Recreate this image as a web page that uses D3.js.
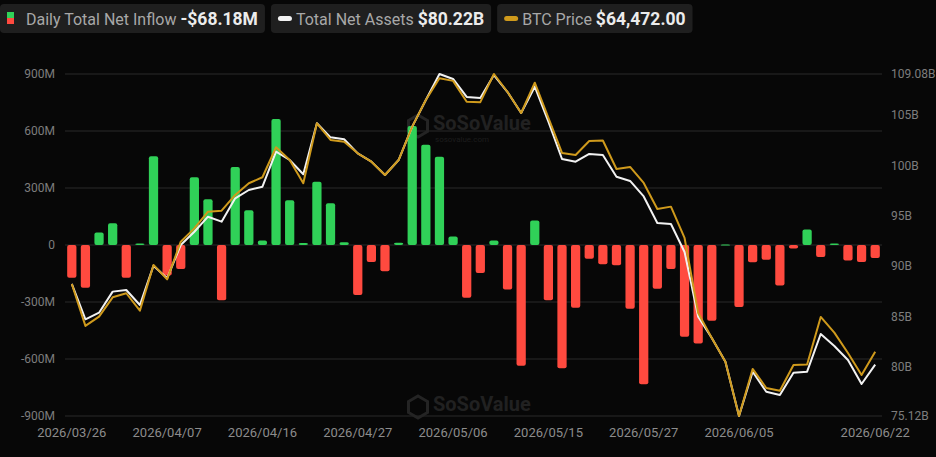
<!DOCTYPE html>
<html>
<head>
<meta charset="utf-8">
<script src="https://cdn.jsdelivr.net/npm/d3@7"></script>
<style>
    html, body { margin: 0; padding: 0; background: #070707; }
    svg { display: block; font-family: Roboto, 'Noto Sans', sans-serif; }
</style>
</head>
<body>
<svg id="chart" width="936" height="457"></svg>
<script>
// trading days shown on the chart
var dates = [
    '2026/03/26', '2026/03/27', '2026/03/30', '2026/03/31', '2026/04/01', '2026/04/02', '2026/04/06', '2026/04/07',
    '2026/04/08', '2026/04/09', '2026/04/10', '2026/04/13', '2026/04/14', '2026/04/15', '2026/04/16', '2026/04/17',
    '2026/04/20', '2026/04/21', '2026/04/22', '2026/04/23', '2026/04/24', '2026/04/27', '2026/04/28', '2026/04/29',
    '2026/04/30', '2026/05/01', '2026/05/04', '2026/05/05', '2026/05/06', '2026/05/07', '2026/05/08', '2026/05/11',
    '2026/05/12', '2026/05/13', '2026/05/14', '2026/05/15', '2026/05/18', '2026/05/19', '2026/05/20', '2026/05/21',
    '2026/05/22', '2026/05/26', '2026/05/27', '2026/05/28', '2026/05/29', '2026/06/01', '2026/06/02', '2026/06/03',
    '2026/06/04', '2026/06/05', '2026/06/08', '2026/06/09', '2026/06/10', '2026/06/11', '2026/06/12', '2026/06/15',
    '2026/06/16', '2026/06/17', '2026/06/18', '2026/06/22'
];

// daily total net inflow, million USD
var netInflow = [
    -173, -225, 66, 115, -173, 8, 467, -160, -126, 356, 241, -291, 410, 183, 24,
    663, 235, 10, 333, 220, 14, -263, -89, -138, 12, 626, 528, 464, 45, -277,
    -147, 24, -234, -635, 129, -291, -649, -330, -73, -101, -106, -335, -733, -230, -126,
    -483, -518, -399, 2, -326, -91, -77, -213, -19, 82, -63, 8, -82, -89, -68.18
];

// total net assets, billion USD
var netAssets = [
    88.23, 84.72, 85.38, 87.47, 87.63, 86.14, 90.05, 88.79, 92.10, 93.42, 94.91, 94.42, 96.74, 97.56, 97.89,
    101.37, 100.54, 99.12, 104.19, 102.79, 102.60, 101.20, 100.38, 99.05, 100.54, 103.85, 106.50, 109.08, 108.59, 106.80,
    106.70, 108.98, 107.29, 105.21, 107.82, 104.35, 100.64, 100.37, 101.14, 101.04, 98.88, 98.46, 96.92, 94.29, 94.19,
    91.41, 84.98, 82.87, 80.51, 75.12, 79.52, 77.53, 77.21, 79.42, 79.52, 83.26, 82.07, 80.68, 78.30, 80.22
];

// BTC price, USD
var btcPrice = [
    68990, 66190, 66810, 68100, 68370, 67210, 70260, 69300, 71810, 72700, 73810, 73880, 74930, 75710, 76110,
    78110, 77260, 75710, 79710, 78600, 78480, 77710, 77150, 76260, 77260, 79490, 81270, 82720, 82540, 81150,
    81120, 83000, 81800, 80400, 82420, 80070, 77730, 77600, 78530, 78560, 76660, 76800, 75730, 73990, 74150,
    72060, 67050, 65390, 63800, 60180, 63320, 62050, 61870, 63580, 63610, 66790, 65740, 64380, 62920, 64472
];

var inflowTicks = [-900, -600, -300, 0, 300, 600, 900];
var assetTicks = [80, 85, 90, 95, 100, 105];
var dateTicks = ['2026/03/26', '2026/04/07', '2026/04/16', '2026/04/27', '2026/05/06',
    '2026/05/15', '2026/05/27', '2026/06/05', '2026/06/22'];

var green = '#30d158';
var red = '#ff4a3f';
var gold = '#cf9a1c';
var white = '#f2f2f2';
var labelColor = '#7d7d7d';

var svg = d3.select('#chart');
var plotLeft = 65, plotRight = 882, plotTop = 74, plotBottom = 416;

var x = d3.scaleBand()
    .domain(dates)
    .range([plotLeft, plotRight])
    .paddingInner(0.32)
    .paddingOuter(0.16);

var yFlow = d3.scaleLinear().domain([-900, 900]).range([plotBottom, plotTop]);
var yAssets = d3.scaleLinear().domain(d3.extent(netAssets)).range([plotBottom, plotTop]);
var yBtc = d3.scaleLinear().domain(d3.extent(btcPrice)).range([plotBottom, plotTop]);

// grid lines
svg.append('g')
    .selectAll('line')
    .data(inflowTicks)
    .enter()
    .append('line')
    .attr('x1', plotLeft)
    .attr('x2', plotRight)
    .attr('y1', function (d) { return yFlow(d); })
    .attr('y2', function (d) { return yFlow(d); })
    .attr('stroke', '#2b2b2b')
    .attr('stroke-width', 1);

// watermarks
function watermark(cx, cy, small) {
    var g = svg.append('g')
        .attr('transform', 'translate(' + cx + ',' + cy + ')');
    var hex = d3.range(6).map(function (i) {
        var a = Math.PI / 3 * i - Math.PI / 2;
        return [Math.cos(a) * 11, Math.sin(a) * 11];
    });
    g.append('path')
        .attr('d', 'M' + hex.join('L') + 'Z')
        .attr('fill', 'none')
        .attr('stroke', '#242424')
        .attr('stroke-width', 3);
    g.append('text')
        .attr('x', 15)
        .attr('y', 4)
        .style('font-size', '20px')
        .style('font-weight', 700)
        .style('fill', '#212121')
        .text('SoSoValue');
    if (small) {
        g.append('text')
            .attr('x', 17)
            .attr('y', 16)
            .style('font-size', '8px')
            .style('fill', '#1d1d1d')
            .text('sosovalue.com');
    }
}
watermark(418, 126, true);
watermark(418, 407, false);

// bars
svg.append('g')
    .selectAll('rect')
    .data(netInflow)
    .enter()
    .append('rect')
    .attr('x', function (d, i) { return x(dates[i]); })
    .attr('width', x.bandwidth())
    .attr('y', function (d) { return d >= 0 ? yFlow(d) : yFlow(0); })
    .attr('height', function (d) { return Math.max(1, Math.abs(yFlow(d) - yFlow(0))); })
    .attr('rx', 2)
    .attr('fill', function (d) { return d >= 0 ? green : red; });

// lines
var cx = function (d, i) { return x(dates[i]) + x.bandwidth() / 2; };

svg.append('path')
    .datum(netAssets)
    .attr('d', d3.line().x(cx).y(function (d) { return yAssets(d); }))
    .attr('fill', 'none')
    .attr('stroke', white)
    .attr('stroke-width', 2)
    .attr('stroke-linejoin', 'round');

svg.append('path')
    .datum(btcPrice)
    .attr('d', d3.line().x(cx).y(function (d) { return yBtc(d); }))
    .attr('fill', 'none')
    .attr('stroke', gold)
    .attr('stroke-width', 2)
    .attr('stroke-linejoin', 'round');

// left axis labels
svg.append('g')
    .selectAll('text')
    .data(inflowTicks)
    .enter()
    .append('text')
    .attr('x', 55)
    .attr('y', function (d) { return yFlow(d); })
    .attr('dy', '0.35em')
    .attr('text-anchor', 'end')
    .style('font-size', '12px')
    .style('fill', labelColor)
    .text(function (d) { return d === 0 ? '0' : d + 'M'; });

// right axis labels
var rightLabels = [75.12].concat(assetTicks).concat([109.08]);
svg.append('g')
    .selectAll('text')
    .data(rightLabels)
    .enter()
    .append('text')
    .attr('x', 891)
    .attr('y', function (d) { return yAssets(d); })
    .attr('dy', '0.35em')
    .style('font-size', '12px')
    .style('fill', labelColor)
    .text(function (d) { return (Number.isInteger(d) ? d : d.toFixed(2)) + 'B'; });

// x axis labels
svg.append('g')
    .selectAll('text')
    .data(dateTicks)
    .enter()
    .append('text')
    .attr('x', function (d) { return x(d) + x.bandwidth() / 2; })
    .attr('y', 437)
    .attr('text-anchor', 'middle')
    .style('font-size', '13px')
    .style('fill', '#8c8c8c')
    .text(function (d) { return d; });

// legend
var legendItems = [
    { name: 'Daily Total Net Inflow', value: '-$68.18M', type: 'bar' },
    { name: 'Total Net Assets', value: '$80.22B', color: white },
    { name: 'BTC Price', value: '$64,472.00', color: gold }
];
var lx = 0;
legendItems.forEach(function (item) {
    var g = svg.append('g').attr('transform', 'translate(' + lx + ',4)');
    var box = g.append('rect')
        .attr('x', 0)
        .attr('y', 0)
        .attr('height', 29)
        .attr('rx', 4)
        .attr('fill', '#1f1f1f');
    var tx;
    if (item.type === 'bar') {
        g.append('rect').attr('x', 7).attr('y', 8).attr('width', 7).attr('height', 6).attr('fill', green);
        g.append('rect').attr('x', 7).attr('y', 14).attr('width', 7).attr('height', 6).attr('fill', red);
        tx = 26;
    } else {
        g.append('rect')
            .attr('x', 7).attr('y', 12)
            .attr('width', 14).attr('height', 5)
            .attr('rx', 2.5)
            .attr('fill', item.color);
        tx = 25;
    }
    var name = g.append('text')
        .attr('x', tx)
        .attr('y', 20.5)
        .style('font-size', '16px')
        .style('fill', '#a8a8a8')
        .text(item.name);
    var nx = tx + name.node().getComputedTextLength() + 4;
    var val = g.append('text')
        .attr('x', nx)
        .attr('y', 21)
        .style('font-size', '17.5px')
        .style('font-weight', 700)
        .style('fill', '#ececec')
        .text(item.value);
    var w = nx + val.node().getComputedTextLength() + 7;
    box.attr('width', w);
    lx += w + 6;
});
</script>
</body>
</html>
